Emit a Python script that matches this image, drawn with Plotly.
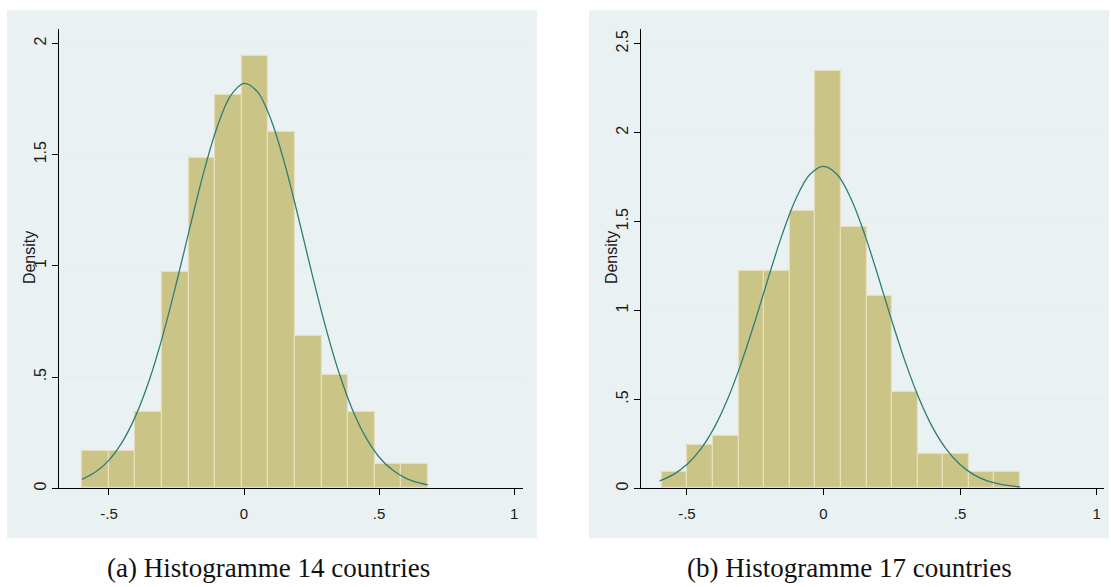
import plotly.graph_objects as go

W, H = 1111, 587

# ---------------- data ----------------
# Panel (a): 14 countries
a_edges = [-0.599, -0.501, -0.402, -0.304, -0.205, -0.107, -0.009, 0.090,
           0.188, 0.287, 0.385, 0.484, 0.582, 0.680]
a_density = [0.168, 0.168, 0.344, 0.971, 1.483, 1.767, 1.943, 1.601,
             0.686, 0.512, 0.344, 0.111, 0.111]
a_curve_x = [-0.60, -0.55, -0.50, -0.45, -0.40, -0.35, -0.30, -0.25, -0.20,
             -0.15, -0.10, -0.05, 0.00, 0.05, 0.10, 0.15, 0.20, 0.25, 0.30,
             0.35, 0.40, 0.45, 0.50, 0.55, 0.60, 0.65, 0.68]
a_curve_y = [0.040, 0.073, 0.127, 0.210, 0.329, 0.489, 0.690, 0.924, 1.174,
             1.417, 1.622, 1.764, 1.820, 1.782, 1.657, 1.462, 1.224, 0.973,
             0.735, 0.526, 0.358, 0.231, 0.141, 0.082, 0.045, 0.024, 0.016]

# Panel (b): 17 countries
b_edges = [-0.592, -0.498, -0.405, -0.311, -0.217, -0.124, -0.030, 0.064,
           0.158, 0.251, 0.345, 0.439, 0.532, 0.626, 0.720]
b_density = [0.091, 0.247, 0.294, 1.225, 1.225, 1.560, 2.347, 1.472,
             1.080, 0.541, 0.194, 0.194, 0.091, 0.091]
b_curve_x = [-0.60, -0.55, -0.50, -0.45, -0.40, -0.35, -0.30, -0.25, -0.20,
             -0.15, -0.10, -0.05, 0.00, 0.05, 0.10, 0.15, 0.20, 0.25, 0.30,
             0.35, 0.40, 0.45, 0.50, 0.55, 0.60, 0.65, 0.70, 0.72]
b_curve_y = [0.042, 0.077, 0.134, 0.219, 0.341, 0.505, 0.708, 0.943, 1.193,
             1.432, 1.631, 1.764, 1.810, 1.764, 1.631, 1.432, 1.193, 0.943,
             0.708, 0.505, 0.341, 0.219, 0.134, 0.077, 0.042, 0.022, 0.011, 0.008]

x_tickvals = [-0.5, 0, 0.5, 1]
x_ticktext = ["-.5", "0", ".5", "1"]
a_ytickvals = [0, 0.5, 1, 1.5, 2]
a_yticktext = ["0", ".5", "1", "1.5", "2"]
b_ytickvals = [0, 0.5, 1, 1.5, 2, 2.5]
b_yticktext = ["0", ".5", "1", "1.5", "2", "2.5"]

captions = ["(a) Histogramme 14 countries", "(b) Histogramme 17 countries"]
y_title = "Density"

# ---------------- styling ----------------
BAR = "#cbc487"
BAR_EDGE = "#e6e1bc"
CURVE = "#2e7d78"
PANEL = "#eaf1f3"
GRID = "#e8eff1"
SANS = "Liberation Sans, Arial, sans-serif"
TICKFONT = dict(family=SANS, size=15, color="#1a1a1a")


def px_x(p):
    return p / W


def px_y(p):
    return 1 - p / H


def hist_trace(edges, dens, xa, ya):
    centers = [(edges[i] + edges[i + 1]) / 2 for i in range(len(dens))]
    widths = [edges[i + 1] - edges[i] for i in range(len(dens))]
    return go.Bar(x=centers, y=dens, width=widths, xaxis=xa, yaxis=ya,
                  marker=dict(color=BAR, line=dict(color=BAR_EDGE, width=1.2)),
                  showlegend=False, hoverinfo="skip")


def curve_trace(cx, cy, xa, ya):
    return go.Scatter(x=cx, y=cy, mode="lines", xaxis=xa, yaxis=ya,
                      line=dict(color=CURVE, width=1.3, shape="spline"),
                      showlegend=False, hoverinfo="skip")


fig = go.Figure()
fig.add_trace(hist_trace(a_edges, a_density, "x", "y"))
fig.add_trace(curve_trace(a_curve_x, a_curve_y, "x", "y"))
fig.add_trace(hist_trace(b_edges, b_density, "x2", "y2"))
fig.add_trace(curve_trace(b_curve_x, b_curve_y, "x2", "y2"))

ydom = [px_y(490), px_y(29)]

common_x = dict(tickvals=x_tickvals, ticktext=x_ticktext, showgrid=False,
                zeroline=False, showline=True, linecolor="black", linewidth=1.2,
                ticks="outside", ticklen=6, tickcolor="black", tickwidth=1.2,
                tickfont=TICKFONT, ticklabelstandoff=6)
common_y = dict(showgrid=True, gridcolor=GRID, gridwidth=1.5, zeroline=False,
                showline=True, linecolor="black", linewidth=1.2,
                ticks="outside", ticklen=6, tickcolor="black", tickwidth=1.2,
                tickfont=dict(TICKFONT, size=16), tickangle=-90,
                ticklabelstandoff=0)

fig.update_layout(
    width=W, height=H,
    margin=dict(l=0, r=0, t=0, b=0),
    paper_bgcolor="white",
    plot_bgcolor="white",
    bargap=0,
    xaxis=dict(common_x, domain=[px_x(59), px_x(523)], range=[-0.685, 1.033], anchor="y"),
    yaxis=dict(common_y, domain=ydom, range=[0, 2.065], tickvals=a_ytickvals,
               ticktext=a_yticktext, anchor="x"),
    xaxis2=dict(common_x, domain=[px_x(641), px_x(1104)], range=[-0.668, 1.027], anchor="y2"),
    yaxis2=dict(common_y, domain=ydom, range=[0, 2.583], tickvals=b_ytickvals,
                ticktext=b_yticktext, anchor="x2"),
    shapes=[
        dict(type="rect", xref="paper", yref="paper", layer="below",
             x0=px_x(7), x1=px_x(537), y0=px_y(540), y1=px_y(10),
             fillcolor=PANEL, line=dict(width=0)),
        dict(type="rect", xref="paper", yref="paper", layer="below",
             x0=px_x(589), x1=px_x(1109), y0=px_y(540), y1=px_y(10),
             fillcolor=PANEL, line=dict(width=0)),
    ],
    annotations=[
        dict(text=y_title, xref="paper", yref="paper", x=px_x(29), y=px_y(259),
             showarrow=False, textangle=-90, xanchor="center", yanchor="middle",
             font=dict(family=SANS, size=16, color="#1a1a1a")),
        dict(text=y_title, xref="paper", yref="paper", x=px_x(611), y=px_y(259),
             showarrow=False, textangle=-90, xanchor="center", yanchor="middle",
             font=dict(family=SANS, size=16, color="#1a1a1a")),
        dict(text=captions[0], xref="paper", yref="paper", x=px_x(268), y=px_y(570),
             showarrow=False, xanchor="center", yanchor="middle",
             font=dict(family="Liberation Serif, Times New Roman, serif", size=27, color="#111")),
        dict(text=captions[1], xref="paper", yref="paper", x=px_x(849), y=px_y(570),
             showarrow=False, xanchor="center", yanchor="middle",
             font=dict(family="Liberation Serif, Times New Roman, serif", size=27, color="#111")),
    ],
)

fig.write_html(
    "out.html",
    config={"displayModeBar": False},
    post_script="document.body.style.margin='0';document.body.style.overflow='hidden';",
)
